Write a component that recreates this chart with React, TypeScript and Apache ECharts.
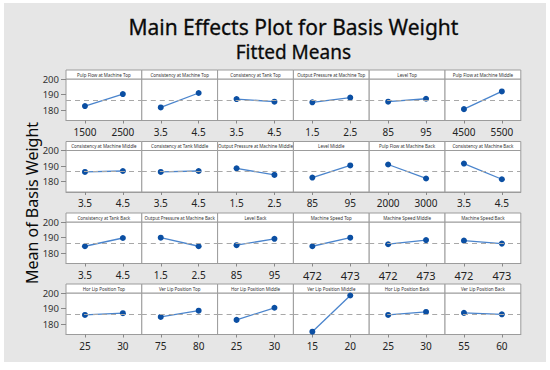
import React, { useEffect, useRef } from "react";
import * as echarts from "echarts";

// ---------- data ----------
const chartTitle = "Main Effects Plot for Basis Weight";
const chartSubtitle = "Fitted Means";
const yAxisTitle = "Mean of Basis Weight";

const factorNames = [
  "Pulp Flow at Machine Top", "Consistency at Machine Top", "Consistency at Tank Top",
  "Output Pressure at Machine Top", "Level Top", "Pulp Flow at Machine Middle",
  "Consistency at Machine Middle", "Consistency at Tank Middle", "Output Pressure at Machine Middle",
  "Level Middle", "Pulp Flow at Machine Back", "Consistency at Machine Back",
  "Consistency at Tank Back", "Output Pressure at Machine Back", "Level Back",
  "Machine Speed Top", "Machine Speed Middle", "Machine Speed Back",
  "Hor Lip Position Top", "Ver Lip Position Top", "Hor Lip Position Middle",
  "Ver Lip Position Middle", "Hor Lip Position Back", "Ver Lip Position Back",
];

const lowLevels = [
  "1500", "3.5", "3.5", "1.5", "85", "4500",
  "3.5", "3.5", "1.5", "85", "2000", "3.5",
  "3.5", "1.5", "85", "472", "472", "472",
  "25", "75", "25", "15", "25", "55",
];
const highLevels = [
  "2500", "4.5", "4.5", "2.5", "95", "5500",
  "4.5", "4.5", "2.5", "95", "3000", "4.5",
  "4.5", "2.5", "95", "473", "473", "473",
  "30", "80", "30", "20", "30", "60",
];

const meanAtLow = [
  182.6, 181.7, 187.1, 185.0, 185.4, 180.6,
  186.2, 186.2, 188.5, 182.6, 191.0, 191.6,
  184.4, 189.9, 185.1, 184.4, 185.7, 188.0,
  185.9, 184.6, 182.7, 175.1, 185.9, 187.2,
];
const meanAtHigh = [
  190.3, 191.0, 185.4, 188.0, 187.3, 192.0,
  186.8, 186.8, 184.3, 190.4, 182.0, 181.5,
  189.7, 184.4, 189.2, 189.9, 188.4, 186.1,
  187.0, 188.6, 190.5, 198.4, 187.8, 186.3,
];

const grandMean = 186.5;
const yTicks = [180, 190, 200];

// ---------- layout ----------
const FONT = "'Noto Sans', 'DejaVu Sans', sans-serif";
const COLS = 6;
const PLOT_LEFT = 66;
const PANEL_W = 75.8;
const ROW_TOPS = [79, 150.5, 222, 293];
const PANEL_H = 41.5;
const STRIP_H = 9;
const BORDER = "#9c9c9c";
const LINE_COLOR = "#4a84cc";
const MARK_COLOR = "#0b4fa3";

export default function App() {
  const ref = useRef<HTMLDivElement>(null);

  useEffect(() => {
    if (!ref.current) return;
    const chart = echarts.init(ref.current, undefined, { renderer: "svg" });

    const grids: any[] = [];
    const xAxes: any[] = [];
    const yAxes: any[] = [];
    const series: any[] = [];
    const graphics: any[] = [
      {
        type: "rect",
        z: -10,
        shape: { x: 4, y: 3, width: 542, height: 359 },
        style: { fill: "#e6e6e6" },
        silent: true,
      },
      {
        type: "text",
        x: PLOT_LEFT + (PANEL_W * COLS) / 2,
        y: 27,
        style: {
          text: chartTitle,
          font: `21px ${FONT}`,
          fill: "#0a0a0a",
          stroke: "#0a0a0a",
          lineWidth: 0.3,
          textAlign: "center",
          textVerticalAlign: "middle",
        },
      },
      {
        type: "text",
        x: PLOT_LEFT + (PANEL_W * COLS) / 2,
        y: 51.5,
        style: {
          text: chartSubtitle,
          font: `19px ${FONT}`,
          fill: "#0a0a0a",
          stroke: "#0a0a0a",
          lineWidth: 0.3,
          textAlign: "center",
          textVerticalAlign: "middle",
        },
      },
      {
        type: "text",
        x: 32,
        y: 203,
        rotation: Math.PI / 2,
        style: {
          text: yAxisTitle,
          font: `16px ${FONT}`,
          fill: "#0a0a0a",
          textAlign: "center",
          textVerticalAlign: "middle",
        },
      },
    ];

    factorNames.forEach((name, i) => {
      const r = Math.floor(i / COLS);
      const c = i % COLS;
      const left = PLOT_LEFT + c * PANEL_W;
      const top = ROW_TOPS[r];

      grids.push({
        left,
        top,
        width: PANEL_W,
        height: PANEL_H,
        show: true,
        backgroundColor: "#ffffff",
        borderColor: BORDER,
        borderWidth: 1,
      });

      xAxes.push({
        gridIndex: i,
        type: "category",
        data: [lowLevels[i], highLevels[i]],
        boundaryGap: true,
        axisLine: { show: true, lineStyle: { color: BORDER } },
        axisTick: { show: true, alignWithLabel: true, length: 3, lineStyle: { color: "#888" } },
        axisLabel: {
          interval: 0,
          fontSize: r === 2 && c >= 3 ? 11 : 10,
          color: "#222",
          margin: 6,
          fontFamily: FONT,
        },
        splitLine: { show: false },
      });

      yAxes.push({
        gridIndex: i,
        type: "value",
        min: 173.3,
        max: 200,
        axisLine: { show: false },
        splitLine: { show: false },
        axisTick: {
          show: c === 0,
          length: 5,
          customValues: yTicks,
          lineStyle: { color: "#888" },
        },
        axisLabel: {
          show: c === 0,
          customValues: yTicks,
          fontSize: 9.5,
          color: "#333",
          margin: 7,
          fontFamily: FONT,
        },
      });

      series.push({
        type: "line",
        xAxisIndex: i,
        yAxisIndex: i,
        data: [meanAtLow[i], meanAtHigh[i]],
        symbol: "circle",
        symbolSize: 6,
        itemStyle: { color: MARK_COLOR },
        lineStyle: { color: LINE_COLOR, width: 1.3 },
        markLine: {
          silent: true,
          symbol: "none",
          label: { show: false },
          lineStyle: { color: "#a8a8a8", type: [5, 4], width: 1.2 },
          data: [{ yAxis: grandMean }],
        },
        z: 3,
      });

      graphics.push({
        type: "rect",
        shape: { x: left, y: top - STRIP_H, width: PANEL_W, height: STRIP_H },
        style: { fill: "#ffffff", stroke: BORDER, lineWidth: 1 },
        silent: true,
      });
      graphics.push({
        type: "text",
        x: left + PANEL_W / 2,
        y: top - STRIP_H / 2,
        style: {
          text: name,
          font: `4.5px ${FONT}`,
          fill: "#333",
          textAlign: "center",
          textVerticalAlign: "middle",
        },
        silent: true,
      });
    });

    chart.setOption({
      animation: false,
      backgroundColor: "#ffffff",
      grid: grids,
      xAxis: xAxes,
      yAxis: yAxes,
      series,
      graphic: graphics,
    });

    return () => chart.dispose();
  }, []);

  return (
    <div
      ref={ref}
      style={{ position: "absolute", left: 0, top: 0, width: 550, height: 370 }}
    />
  );
}
